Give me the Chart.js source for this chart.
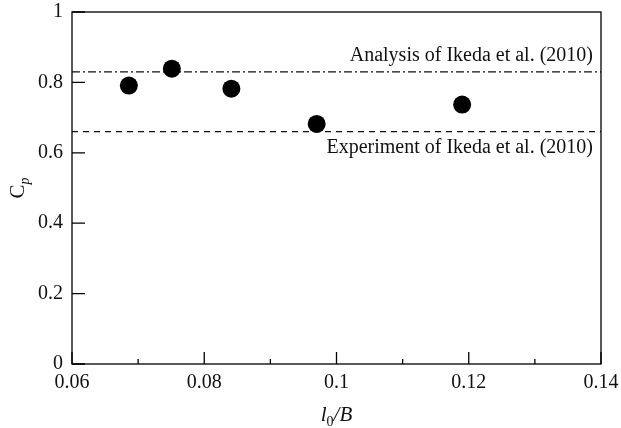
<!DOCTYPE html>
<html>
<head>
<meta charset="utf-8">
<script src="https://cdn.jsdelivr.net/npm/chart.js@4"></script>
<style>
  body { margin: 0; background: #fff; }
  #chart { display: block; }
</style>
</head>
<body>
<canvas id="chart" width="621" height="428"></canvas>
<script>
// values
const lengthRatio = [0.0686, 0.0751, 0.0841, 0.0970, 0.1190];
const powerCoef = [0.791, 0.839, 0.782, 0.682, 0.737];
const analysisCp = 0.83;
const experimentCp = 0.66;
const xRange = [0.06, 0.14];
const yRange = [0, 1];
const xLabels = ["0.06", "0.08", "0.1", "0.12", "0.14"];
const yLabels = ["0", "0.2", "0.4", "0.6", "0.8", "1"];

const serif = "'Liberation Serif', 'Times New Roman', serif";

// frame, inward ticks, titles and line notes
const decor = {
  id: "decor",
  afterDraw(chart) {
    const ctx = chart.ctx;
    const a = chart.chartArea;
    const xs = chart.scales.x, ys = chart.scales.y;
    ctx.save();
    ctx.strokeStyle = "#000";
    ctx.lineWidth = 1.3;
    ctx.strokeRect(a.left, a.top, a.right - a.left, a.bottom - a.top);

    ctx.beginPath();
    xs.ticks.forEach(function (t, i) {
      const px = xs.getPixelForValue(t.value);
      const len = i % 2 === 0 ? 12 : 5;
      ctx.moveTo(px, a.bottom);
      ctx.lineTo(px, a.bottom - len);
    });
    ys.ticks.forEach(function (t) {
      const py = ys.getPixelForValue(t.value);
      ctx.moveTo(a.left, py);
      ctx.lineTo(a.left + 13, py);
    });
    ctx.stroke();

    ctx.fillStyle = "#111";
    ctx.textAlign = "right";
    ctx.textBaseline = "alphabetic";
    ctx.font = "20px " + serif;
    ctx.fillText("Analysis of Ikeda et al. (2010)", a.right - 8, ys.getPixelForValue(analysisCp) - 11);
    ctx.fillText("Experiment of Ikeda et al. (2010)", a.right - 8, ys.getPixelForValue(experimentCp) + 21);

    // x title: l0/B
    ctx.textAlign = "left";
    const cx = (a.left + a.right) / 2;
    const by = 421;
    const parts = [
      ["italic 21px " + serif, "l", 0],
      ["14px " + serif, "0", 5],
      ["italic 21px " + serif, "/B", 0]
    ];
    let w = 0;
    parts.forEach(function (p) { ctx.font = p[0]; w += ctx.measureText(p[1]).width; });
    let x = cx - w / 2;
    parts.forEach(function (p) {
      ctx.font = p[0];
      ctx.fillText(p[1], x, by + p[2]);
      x += ctx.measureText(p[1]).width;
    });

    // y title: Cp rotated
    ctx.translate(24, (a.top + a.bottom) / 2);
    ctx.rotate(-Math.PI / 2);
    ctx.font = "21px " + serif;
    const cw = ctx.measureText("C").width;
    ctx.font = "italic 14px " + serif;
    const pw = ctx.measureText("p").width;
    x = -(cw + pw) / 2;
    ctx.font = "21px " + serif;
    ctx.fillText("C", x, 0);
    ctx.font = "italic 14px " + serif;
    ctx.fillText("p", x + cw, 5);
    ctx.restore();
  }
};

new Chart(document.getElementById("chart"), {
  type: "scatter",
  data: {
    datasets: [
      {
        label: "Present",
        data: lengthRatio.map(function (v, i) { return { x: v, y: powerCoef[i] }; }),
        backgroundColor: "#000",
        borderWidth: 0,
        pointRadius: 9,
        pointHoverRadius: 9
      },
      {
        type: "line",
        label: "Analysis",
        data: [{ x: xRange[0], y: analysisCp }, { x: xRange[1], y: analysisCp }],
        borderColor: "#111",
        borderWidth: 1.3,
        borderDash: [8, 3, 2, 3],
        pointRadius: 0
      },
      {
        type: "line",
        label: "Experiment",
        data: [{ x: xRange[0], y: experimentCp }, { x: xRange[1], y: experimentCp }],
        borderColor: "#111",
        borderWidth: 1.3,
        borderDash: [6, 5],
        pointRadius: 0
      }
    ]
  },
  options: {
    responsive: false,
    animation: false,
    layout: { padding: { left: 0, top: 12, right: 20, bottom: 0 } },
    plugins: { legend: { display: false }, tooltip: { enabled: false } },
    scales: {
      x: {
        type: "linear",
        min: xRange[0],
        max: xRange[1],
        grid: { display: false, drawTicks: false },
        border: { display: false },
        ticks: {
          stepSize: 0.01,
          padding: 7,
          color: "#111",
          font: { family: serif, size: 20 },
          autoSkip: false,
          maxRotation: 0,
          callback: function (v, i) { return i % 2 === 0 ? xLabels[i / 2] : ""; }
        },
        afterFit: function (s) {
          s.height = 64;
          s.paddingLeft = 0;
          s.paddingRight = 0;
        }
      },
      y: {
        min: yRange[0],
        max: yRange[1],
        grid: { display: false, drawTicks: false },
        border: { display: false },
        ticks: {
          stepSize: 0.2,
          padding: 9,
          color: "#111",
          font: { family: serif, size: 20 },
          callback: function (v, i) { return yLabels[i]; }
        },
        afterFit: function (s) {
          s.width = 72;
          s.paddingTop = 0;
          s.paddingBottom = 0;
        }
      }
    }
  },
  plugins: [decor]
});
</script>
</body>
</html>
